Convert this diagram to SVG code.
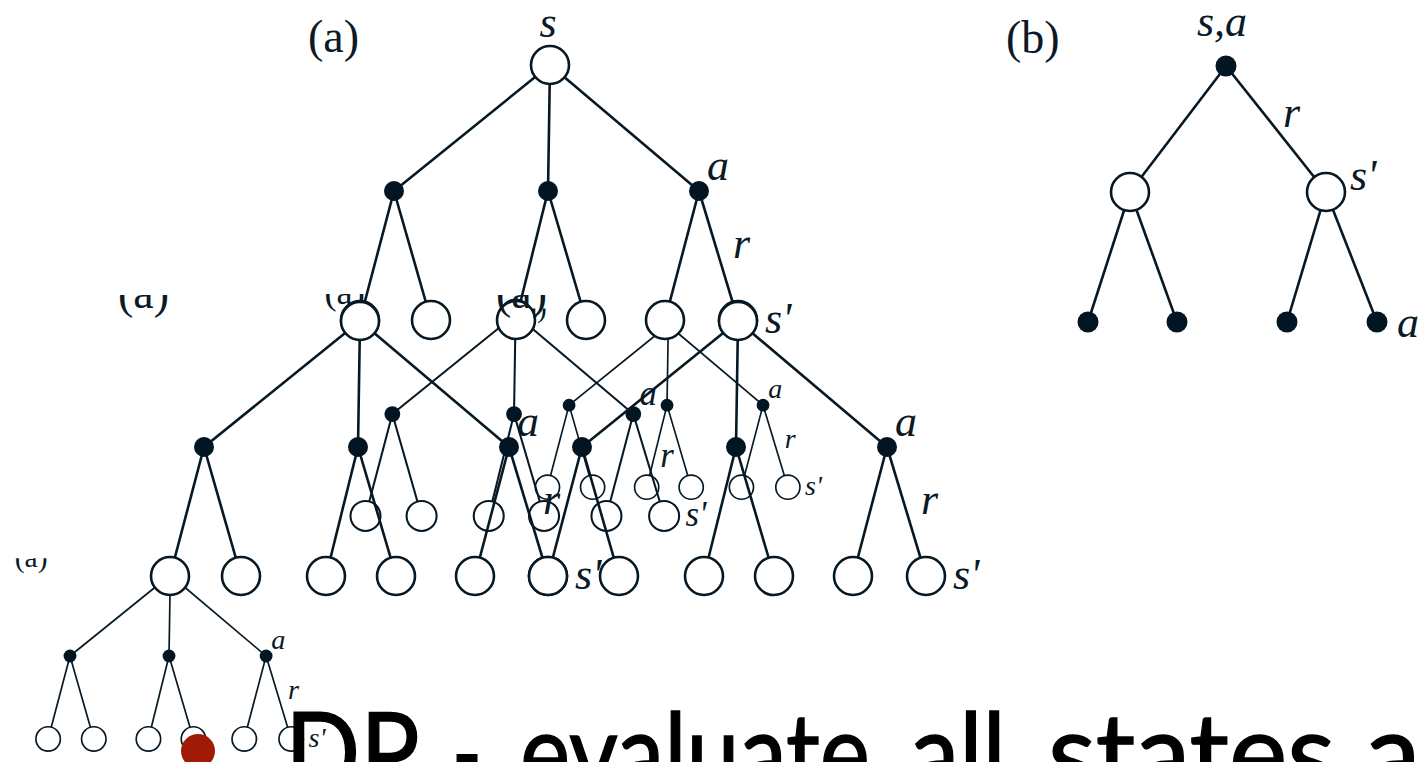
<svg xmlns="http://www.w3.org/2000/svg" xmlns:xlink="http://www.w3.org/1999/xlink" width="1424" height="762" viewBox="0 0 1424 762">
  <style>
    .edge { stroke: #061824; stroke-width: 2.6; fill: none; }
    .state { fill: #ffffff; stroke: #061824; stroke-width: 2.6; }
    .act { fill: #021522; }
    .lbl { font-family: "Liberation Serif", "Times New Roman", serif; font-style: italic; font-size: 44px; fill: #0b1a26; }
    .tag { font-family: "Liberation Serif", "Times New Roman", serif; font-size: 46px; fill: #0b1a26; }
    .title { font-family: Lato, "Open Sans", "Liberation Sans", sans-serif; font-size: 110px; fill: #000000; stroke: #000000; stroke-width: 1.4; }
  </style>
  <defs>
    <!-- the nested copies lose everything above the (a) tag's middle -->
    <clipPath id="cut-top" clipPathUnits="userSpaceOnUse">
      <rect x="-400" y="-26" width="900" height="400"/>
    </clipPath>
  </defs>

  <!-- nested copies of the backup tree, smaller ones underneath -->
  <g id="copy-f" transform="translate(170.3,575) scale(0.643)">
    <use xlink:href="#tree-body" href="#tree-body" clip-path="url(#cut-top)"/>
  </g>
  <g id="copy-e" transform="translate(668.3,325) scale(0.636)">
    <use xlink:href="#tree-body" href="#tree-body" clip-path="url(#cut-top)"/>
  </g>
  <g id="copy-d" transform="translate(515.6,314.5) scale(0.79)">
    <use xlink:href="#tree-body" href="#tree-body" clip-path="url(#cut-top)"/>
  </g>

  <!-- (a) full-size tree: state s, actions, successor states -->
  <g id="tree-a" transform="translate(550,65)">
    <g id="tree-body">
      <g id="a-connectors">
        <line class="edge" x1="0" y1="0" x2="-156" y2="126"/>
        <line class="edge" x1="0" y1="0" x2="-2" y2="126"/>
        <line class="edge" x1="0" y1="0" x2="149" y2="126"/>
        <line class="edge" x1="-156" y1="126" x2="-190" y2="255"/>
        <line class="edge" x1="-156" y1="126" x2="-119" y2="255"/>
        <line class="edge" x1="-2" y1="126" x2="-34" y2="255"/>
        <line class="edge" x1="-2" y1="126" x2="36" y2="255"/>
        <line class="edge" x1="149" y1="126" x2="115" y2="255"/>
        <line class="edge" x1="149" y1="126" x2="188" y2="255"/>
      </g>
      <g id="a-root"><circle class="state" cx="0" cy="0" r="19"/></g>
      <g id="a-act1"><circle class="act" cx="-156" cy="126" r="10"/></g>
      <g id="a-act2"><circle class="act" cx="-2" cy="126" r="10"/></g>
      <g id="a-act3"><circle class="act" cx="149" cy="126" r="10"/></g>
      <g id="a-s1"><circle class="state" cx="-190" cy="255" r="19"/></g>
      <g id="a-s2"><circle class="state" cx="-119" cy="255" r="19"/></g>
      <g id="a-s3"><circle class="state" cx="-34" cy="255" r="19"/></g>
      <g id="a-s4"><circle class="state" cx="36" cy="255" r="19"/></g>
      <g id="a-s5"><circle class="state" cx="115" cy="255" r="19"/></g>
      <g id="a-s6"><circle class="state" cx="188" cy="255" r="19"/></g>
      <g id="a-labels">
        <text class="tag" x="-242" y="-13">(a)</text>
        <text class="lbl" x="-2" y="-28" text-anchor="middle">s</text>
        <text class="lbl" x="157" y="115">a</text>
        <text class="lbl" x="183" y="193">r</text>
        <text class="lbl" x="215" y="268">s'</text>
      </g>
    </g>
  </g>

  <!-- full-size copies rooted at the outer successor states -->
  <g id="copy-b" transform="translate(360,321)">
    <use xlink:href="#tree-body" href="#tree-body" clip-path="url(#cut-top)"/>
  </g>
  <g id="copy-c" transform="translate(738,321)">
    <use xlink:href="#tree-body" href="#tree-body" clip-path="url(#cut-top)"/>
  </g>

  <!-- (b) action-value backup tree -->
  <g id="tree-b">
    <g id="b-connectors">
      <line class="edge" x1="1226" y1="66" x2="1130" y2="192"/>
      <line class="edge" x1="1226" y1="66" x2="1326" y2="192"/>
      <line class="edge" x1="1130" y1="192" x2="1088" y2="322"/>
      <line class="edge" x1="1130" y1="192" x2="1177" y2="322"/>
      <line class="edge" x1="1326" y1="192" x2="1287" y2="322"/>
      <line class="edge" x1="1326" y1="192" x2="1377" y2="322"/>
    </g>
    <g id="b-root"><circle class="act" cx="1226" cy="66" r="10.5"/></g>
    <g id="b-s1"><circle class="state" cx="1130" cy="192" r="19"/></g>
    <g id="b-s2"><circle class="state" cx="1326" cy="192" r="19"/></g>
    <g id="b-a1"><circle class="act" cx="1088" cy="322" r="10.5"/></g>
    <g id="b-a2"><circle class="act" cx="1177" cy="322" r="10.5"/></g>
    <g id="b-a3"><circle class="act" cx="1287" cy="322" r="10.5"/></g>
    <g id="b-a4"><circle class="act" cx="1377" cy="322" r="10.5"/></g>
    <g id="b-labels">
      <text class="tag" x="1006" y="53">(b)</text>
      <text class="lbl" x="1222" y="36" text-anchor="middle">s,a</text>
      <text class="lbl" x="1283" y="127">r</text>
      <text class="lbl" x="1350" y="190">s'</text>
      <text class="lbl" x="1397" y="337">a'</text>
    </g>
  </g>

  <!-- bullet and heading along the bottom edge -->
  <circle id="bullet" cx="198" cy="751" r="17" fill="#a01a05"/>
  <text class="title" y="792">
    <tspan x="285" textLength="132" lengthAdjust="spacingAndGlyphs">DP</tspan>
    <tspan x="452" textLength="30" lengthAdjust="spacingAndGlyphs">-</tspan>
    <tspan x="520" textLength="350" lengthAdjust="spacingAndGlyphs">evaluate</tspan>
    <tspan x="910" textLength="96" lengthAdjust="spacingAndGlyphs">all</tspan>
    <tspan x="1048" textLength="287" lengthAdjust="spacingAndGlyphs">states</tspan>
    <tspan x="1365" textLength="118" lengthAdjust="spacingAndGlyphs">an</tspan>
  </text>
</svg>
